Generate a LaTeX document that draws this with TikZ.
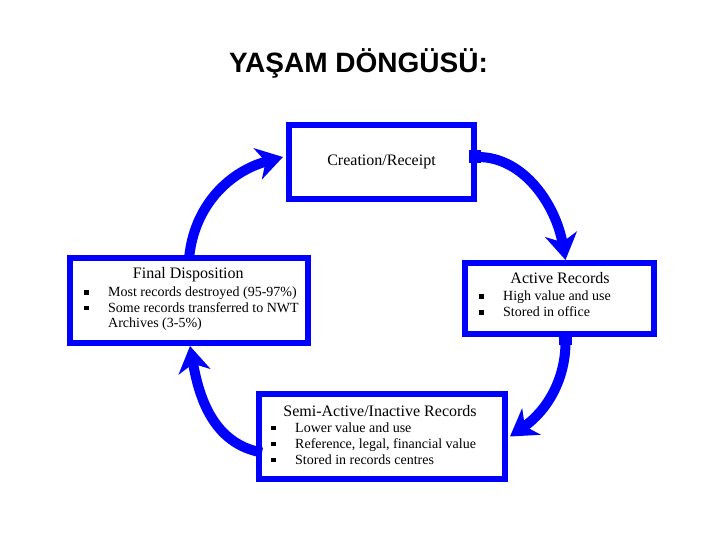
\documentclass[tikz,border=0pt]{standalone}
\usepackage{fontspec}
\setmainfont{Liberation Serif}
\newfontfamily\headfont{Liberation Sans}
\usetikzlibrary{arrows.meta}
\definecolor{cycleblue}{HTML}{0000FF}
\newcommand{\itembul}{\rule[2pt]{4.5pt}{4.5pt}\hspace{19.5pt}}

\begin{document}
\begin{tikzpicture}[x=1pt, y=-1pt,
      stagebox/.style={draw=cycleblue, line width=6pt, fill=white, inner sep=0pt},
      stagetitle/.style={anchor=base, inner sep=0pt, font=\fontsize{16}{19}\selectfont},
      itemline/.style={anchor=base west, inner sep=0pt, font=\fontsize{14}{16}\selectfont},
      flowarrow/.style={draw=cycleblue, line width=10pt, -{Stealth[length=26pt, width=32pt, inset=8pt]}},
      tailarrow/.style={flowarrow, {Rectangle[length=12pt, width=13pt]}-{Stealth[length=26pt, width=32pt, inset=8pt]}}]

      % Page
      \fill[white] (0,0) rectangle (720,540);
      \useasboundingbox (0,0) rectangle (720,540);

      % Title
      \node[anchor=base, font=\headfont\bfseries\fontsize{28}{32}\selectfont] (title) at (358.5,73) {YAŞAM DÖNGÜSÜ:};

      % --- Stage boxes ---
      \node[stagebox, minimum width=185pt, minimum height=74pt, font=\fontsize{16}{19}\selectfont] (creation) at (381.5,162) {Creation/Receipt};
      \node[stagebox, minimum width=189pt, minimum height=71pt] (active) at (559.5,298.5) {};
      \node[stagebox, minimum width=246pt, minimum height=85pt] (semi) at (382,436.5) {};
      \node[stagebox, minimum width=238pt, minimum height=85pt] (final) at (189,300.5) {};

      % --- Active Records ---
      \node[stagetitle] (activetitle) at (560,283) {Active Records};
      \node[itemline] (active1) at (479,300.7) {\itembul High value and use};
      \node[itemline] (active2) at (479,316.7) {\itembul Stored in office};

      % --- Semi-Active/Inactive Records ---
      \node[stagetitle] (semititle) at (380,416) {Semi-Active/Inactive Records};
      \node[itemline] (semi1) at (271,432) {\itembul Lower value and use};
      \node[itemline] (semi2) at (271,448) {\itembul Reference, legal, financial value};
      \node[itemline] (semi3) at (271,464) {\itembul Stored in records centres};

      % --- Final Disposition ---
      \node[stagetitle] (finaltitle) at (188.3,278) {Final Disposition};
      \node[itemline] (final1) at (84,296.5) {\itembul Most records destroyed (95-97\%)};
      \node[itemline] (final2) at (84,312) {\itembul Some records transferred to NWT};
      \node[itemline] (final3) at (108,327.5) {Archives (3-5\%)};

      % --- Cycle arrows ---
      \draw[flowarrow] ([yshift=-4pt]final.north) to[out=85, in=195] ([shift={(-3pt,5pt)}]creation.west);
      \draw[tailarrow] ([shift={(-8pt,5pt)}]creation.east) to[out=0, in=100] ([xshift=6pt]active.north);
      \draw[tailarrow] ([shift={(6pt,4pt)}]active.south) to[out=-90, in=35] ([xshift=2pt]semi.east);
      \draw[flowarrow] ([shift={(6pt,-16pt)}]semi.west) to[out=170, in=-80] ([xshift=1pt]final.south);

\end{tikzpicture}
\end{document}
